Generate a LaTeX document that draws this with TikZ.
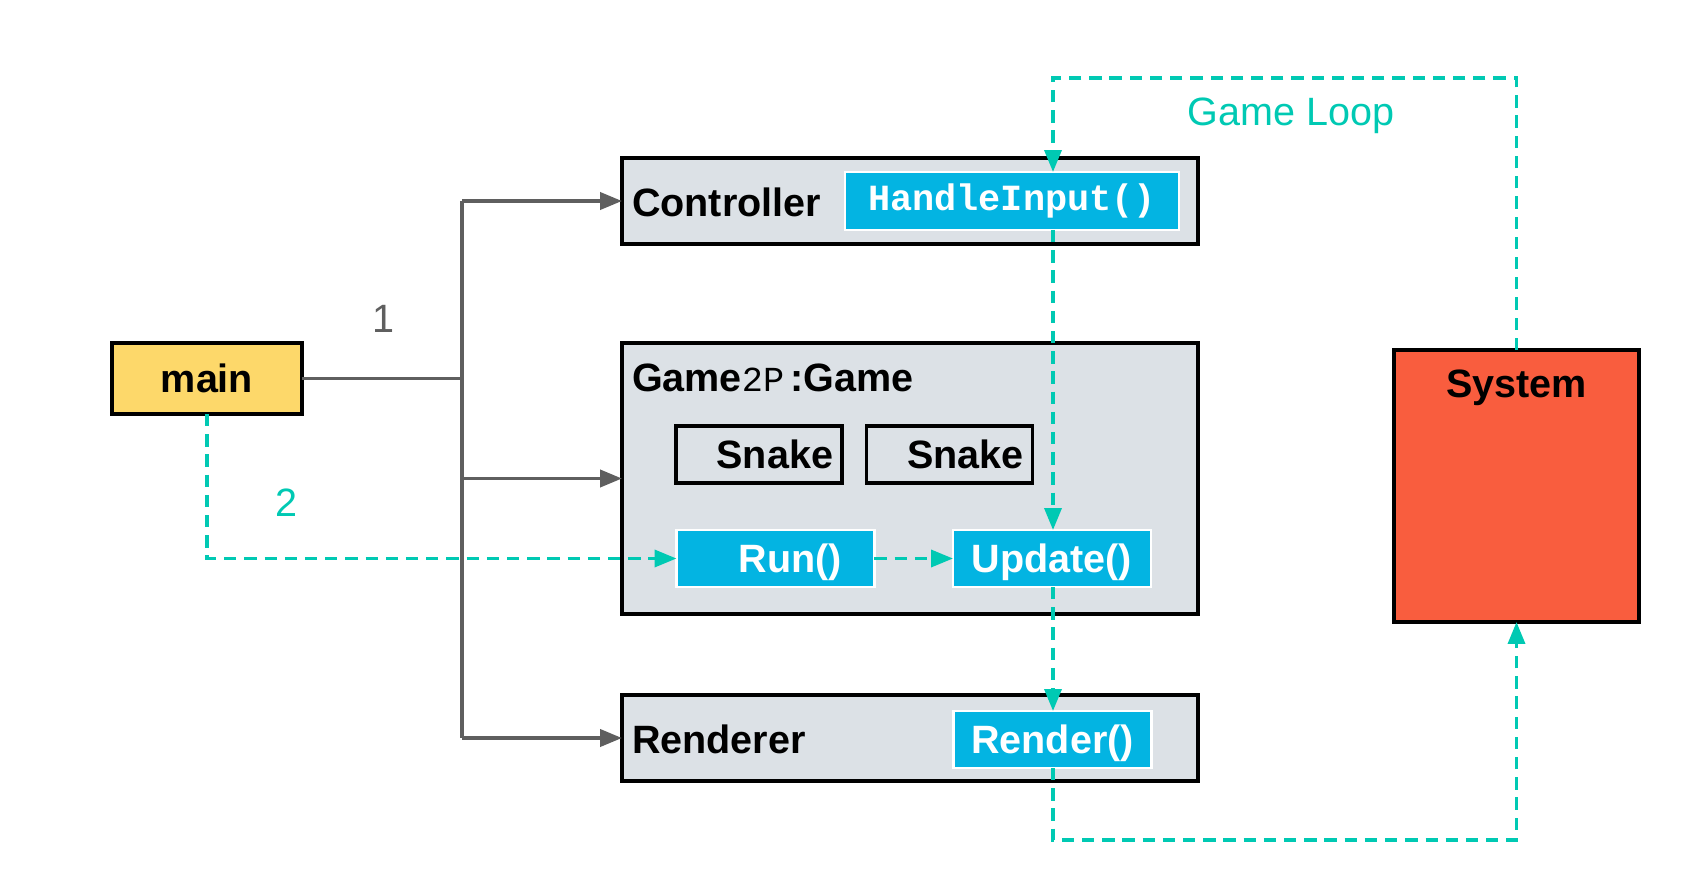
\documentclass[tikz,border=0pt]{standalone}
\usepackage{fontspec}
\setmainfont{Liberation Sans}
\newfontfamily\codefont{Liberation Mono}
\usetikzlibrary{arrows.meta,calc}
\definecolor{LoopPaper}{HTML}{DCE1E6}
\definecolor{LoopInk}{HTML}{000000}
\definecolor{LoopWire}{HTML}{5F5F5F}
\definecolor{LoopFlow}{HTML}{00C9B3}
\definecolor{LoopMethod}{HTML}{03B4E2}
\definecolor{LoopMain}{HTML}{FDD86A}
\definecolor{LoopSystem}{HTML}{F95D3E}
\tikzset{
    loop/diagram/.style={
        font=\fontsize{22.5}{27}\selectfont\bfseries,
        text=LoopInk,
        line join=miter,
        every node/.style={inner sep=0pt, outer sep=0pt}
    },
    loop/box/.style={draw=LoopInk, line width=2.2pt},
    loop/class/.style={loop/box, fill=LoopPaper, minimum width=11.52cm},
    loop/main/.style={loop/box, fill=LoopMain, minimum width=3.8cm, minimum height=1.42cm},
    loop/system/.style={loop/box, fill=LoopSystem, minimum width=4.9cm, minimum height=5.44cm},
    loop/snake/.style={
        loop/box, minimum height=1.14cm, text width=2.96cm,
        inner xsep=0.18cm, align=right
    },
    loop/method/.style={
        draw=white, line width=1.4pt, fill=LoopMethod, text=white,
        minimum width=3.96cm, minimum height=1.14cm
    },
    loop/action/.style={loop/method, text height=16pt, text depth=0pt},
    loop/wire/.style={draw=LoopWire, line width=2.2pt},
    loop/call/.style={
        loop/wire, -{Triangle[length=0.44cm, width=0.34cm]}
    },
    loop/flow/.style={
        draw=LoopFlow, line width=2pt, dash pattern=on 7pt off 4.5pt,
        -{Triangle[length=0.44cm, width=0.34cm]}
    },
    loop/tag/.style={font=\fontsize{22.5}{27}\selectfont\mdseries}
}
\begin{document}
\begin{tikzpicture}[loop/diagram, x=0.02cm, y=-0.02cm]
    \useasboundingbox (0,0) rectangle (1708,879);
    % classes
    \node[loop/main] (main) at (207,378.5) {main};
    \node[loop/class, minimum height=1.72cm] (ctrl) at (910,201) {};
    \node[loop/class, minimum height=5.42cm] (game) at (910,478.5) {};
    \node[loop/class, minimum height=1.72cm] (rend) at (910,738) {};
    \node[loop/system] (sys) at (1516.5,486) {};
    \node (sysname) at ($(sys.north)+(0,38)$) {System};
    \node[anchor=west] (ctrlname) at ($(ctrl.west)+(10,1)$) {Controller};
    \node[anchor=west] (gamename) at ($(game.north west)+(10,35)$)
        {Game{\codefont\mdseries\fontsize{20}{24}\selectfont 2P}\,:Game};
    \node[anchor=west] (rendname) at ($(rend.west)+(10,1)$) {Renderer};
    % members
    \node[loop/method, minimum width=6.68cm, minimum height=1.16cm] (handle)
        at (1012,201) {\codefont\fontsize{21}{25}\selectfont HandleInput()};
    \node[loop/snake] (snakeA) at (759,454.5) {Snake};
    \node[loop/snake] (snakeB) at (949.5,454.5) {Snake};
    \node[loop/action] (run) at (775.5,558.5) {\hspace{0.6cm}Run()};
    \node[loop/action] (update) at (1052,558.5) {Update()};
    \node[loop/action] (render) at (1052.5,739.5) {Render()};
    % ownership
    \coordinate (fork) at (462,378.5);
    \draw[loop/wire] (main.east) -- (fork);
    \draw[loop/wire] (fork |- ctrl.west) -- (fork |- rend.west);
    \draw[loop/call] (fork |- ctrl.west) -- (ctrl.west);
    \draw[loop/call] (fork |- game.west) -- (game.west);
    \draw[loop/call] (fork |- rend.west) -- (rend.west);
    \node[loop/tag, text=LoopWire] (one) at (383,319) {1};
    % calls
    \draw[loop/flow] (main.south) |- (run.west);
    \draw[loop/flow] (run.east) -- (update.west);
    \node[loop/tag, text=LoopFlow] (two) at (286,503) {2};
    % game loop
    \coordinate (looptop) at (1053,78);
    \coordinate (loopbottom) at (1053,840);
    \draw[loop/flow] (sys.north) |- (looptop) -- (looptop |- handle.north);
    \draw[loop/flow] (looptop |- handle.south) -- (looptop |- update.north);
    \draw[loop/flow] (looptop |- update.south) -- (looptop |- render.north);
    \draw[loop/flow] (looptop |- render.south) -- (loopbottom) -| (sys.south);
    \node[loop/tag, text=LoopFlow] (looptag) at (1291,116) {Game Loop};
\end{tikzpicture}
\end{document}
